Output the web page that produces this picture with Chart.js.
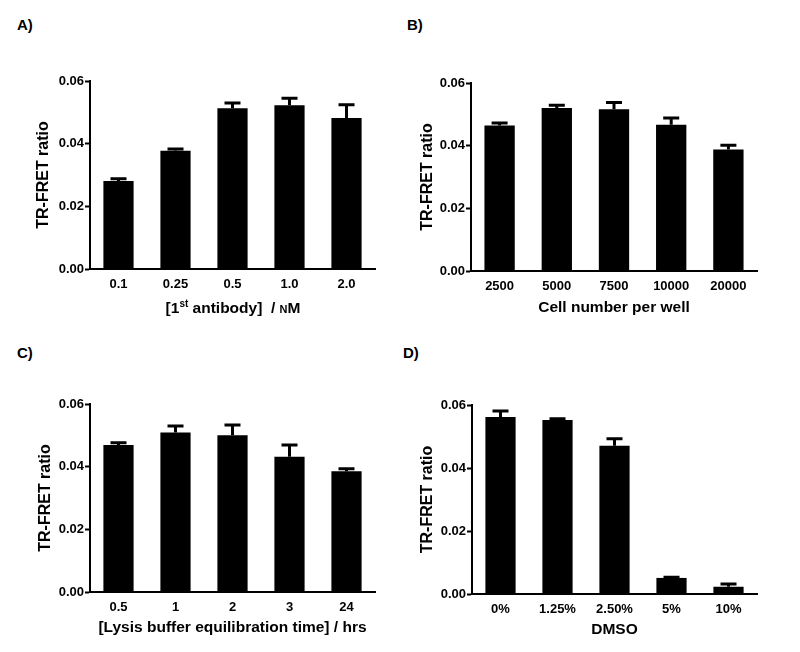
<!DOCTYPE html>
<html>
<head>
<meta charset="utf-8">
<script src="https://cdn.jsdelivr.net/npm/chart.js@4.4.1/dist/chart.umd.min.js"></script>
<style>
  body { margin: 0; background: #fff; }
  #wrap { position: relative; width: 800px; height: 652px; font-family: "Liberation Sans", Arial, sans-serif; font-weight: bold; color: #000; }
  .panel { position: absolute; width: 400px; height: 326px; }
  .tag { position: absolute; font-size: 15px; line-height: 18px; }
  .xt { position: absolute; font-size: 15.5px; line-height: 18px; white-space: nowrap; transform: translate(-50%, -50%); }
  .xt sup { font-size: 10px; line-height: 0; }
</style>
</head>
<body>
<div id="wrap">
  <div class="tag" style="left:17px;top:16px">A)</div>
  <div class="tag" style="left:407px;top:16px">B)</div>
  <div class="tag" style="left:17px;top:344px">C)</div>
  <div class="tag" style="left:403px;top:344px">D)</div>
  <div class="panel" style="left:0;top:0"><canvas id="cA" width="400" height="326"></canvas></div>
  <div class="panel" style="left:400px;top:0"><canvas id="cB" width="400" height="326"></canvas></div>
  <div class="panel" style="left:0;top:326px"><canvas id="cC" width="400" height="326"></canvas></div>
  <div class="panel" style="left:400px;top:326px"><canvas id="cD" width="400" height="326"></canvas></div>
  <div class="xt" style="left:233px;top:308px">[1<sup>st</sup> antibody]&nbsp; / <span style="font-variant:small-caps">nM</span></div>
</div>
<script>
// data
const yTicks = [0, 0.02, 0.04, 0.06];

const antibodyLabels = ["0.1", "0.25", "0.5", "1.0", "2.0"];
const antibodyMean = [0.0281, 0.0377, 0.0513, 0.0523, 0.0482];
const antibodySem = [0.0007, 0.0006, 0.0017, 0.0022, 0.0042];

const cellLabels = ["2500", "5000", "7500", "10000", "20000"];
const cellMean = [0.0464, 0.052, 0.0516, 0.0467, 0.0388];
const cellSem = [0.0008, 0.0009, 0.0022, 0.0021, 0.0013];

const lysisLabels = ["0.5", "1", "2", "3", "24"];
const lysisMean = [0.0469, 0.0509, 0.05, 0.0432, 0.0385];
const lysisSem = [0.0007, 0.0021, 0.0033, 0.0037, 0.0008];

const dmsoLabels = ["0%", "1.25%", "2.50%", "5%", "10%"];
const dmsoMean = [0.0562, 0.0552, 0.0471, 0.0051, 0.0023];
const dmsoSem = [0.0019, 0.0004, 0.0022, 0.0002, 0.0009];

Chart.defaults.font.family = '"Liberation Sans", Arial, sans-serif';
Chart.defaults.font.weight = 'bold';
Chart.defaults.color = '#000';

// one-sided (upper) error bars
const errorBars = {
  id: 'errorBars',
  afterDatasetsDraw(chart) {
    const ctx = chart.ctx;
    const yScale = chart.scales.y;
    const sem = chart.options.plugins.errorBars.sem;
    const mean = chart.data.datasets[0].data;
    const meta = chart.getDatasetMeta(0);
    ctx.save();
    ctx.strokeStyle = '#000';
    ctx.lineWidth = 3;
    meta.data.forEach((bar, i) => {
      const yTop = yScale.getPixelForValue(mean[i] + sem[i]);
      ctx.beginPath();
      ctx.moveTo(bar.x, bar.y);
      ctx.lineTo(bar.x, yTop);
      ctx.moveTo(bar.x - 8, yTop);
      ctx.lineTo(bar.x + 8, yTop);
      ctx.stroke();
    });
    ctx.restore();
  }
};

function makeChart(id, labels, mean, sem, xTitle, box) {
  const xHeight = 326 - box.bottom;
  const yWidth = box.left - box.padLeft;
  return new Chart(document.getElementById(id), {
    type: 'bar',
    data: {
      labels: labels,
      datasets: [{
        data: mean,
        backgroundColor: '#000',
        borderWidth: 0,
        barPercentage: 0.53,
        categoryPercentage: 1
      }]
    },
    options: {
      responsive: false,
      animation: false,
      layout: { padding: { top: box.top, right: 400 - box.right, left: box.padLeft, bottom: 0 } },
      plugins: {
        legend: { display: false },
        tooltip: { enabled: false },
        errorBars: { sem: sem }
      },
      scales: {
        x: {
          afterFit: (s) => { s.height = xHeight; },
          grid: { display: true, drawOnChartArea: false, drawTicks: false },
          border: { display: true, color: '#000', width: 2 },
          ticks: { font: { size: 13, weight: 'bold' }, padding: 8 },
          title: {
            display: xTitle !== null,
            text: xTitle || '',
            font: { size: 15.5, weight: 'bold' },
            padding: { top: 0, bottom: box.titlePad }
          }
        },
        y: {
          min: 0,
          max: 0.06,
          afterFit: (s) => { s.width = yWidth; },
          afterBuildTicks: (s) => { s.ticks = yTicks.map(v => ({ value: v })); },
          grid: { drawOnChartArea: false, drawTicks: true, tickLength: 5, tickWidth: 2, tickColor: '#000' },
          border: { display: true, color: '#000', width: 2 },
          ticks: { font: { size: 13, weight: 'bold' }, padding: 1, callback: (v) => Number(v).toFixed(2) },
          title: {
            display: true,
            text: 'TR-FRET ratio',
            font: { size: 16, weight: 'bold' },
            padding: { top: 0, bottom: 0 }
          }
        }
      }
    },
    plugins: [errorBars]
  });
}

makeChart('cA', antibodyLabels, antibodyMean, antibodySem, null,
  { left: 90, right: 375, top: 81, bottom: 269, padLeft: 34, titlePad: 9 });
makeChart('cB', cellLabels, cellMean, cellSem, 'Cell number per well',
  { left: 71, right: 357, top: 83, bottom: 271, padLeft: 18, titlePad: 9 });
makeChart('cC', lysisLabels, lysisMean, lysisSem, '[Lysis buffer equilibration time] / hrs',
  { left: 90, right: 375, top: 78, bottom: 266, padLeft: 36, titlePad: 15 });
makeChart('cD', dmsoLabels, dmsoMean, dmsoSem, 'DMSO',
  { left: 72, right: 357, top: 79, bottom: 268, padLeft: 18, titlePad: 13 });
</script>
</body>
</html>
